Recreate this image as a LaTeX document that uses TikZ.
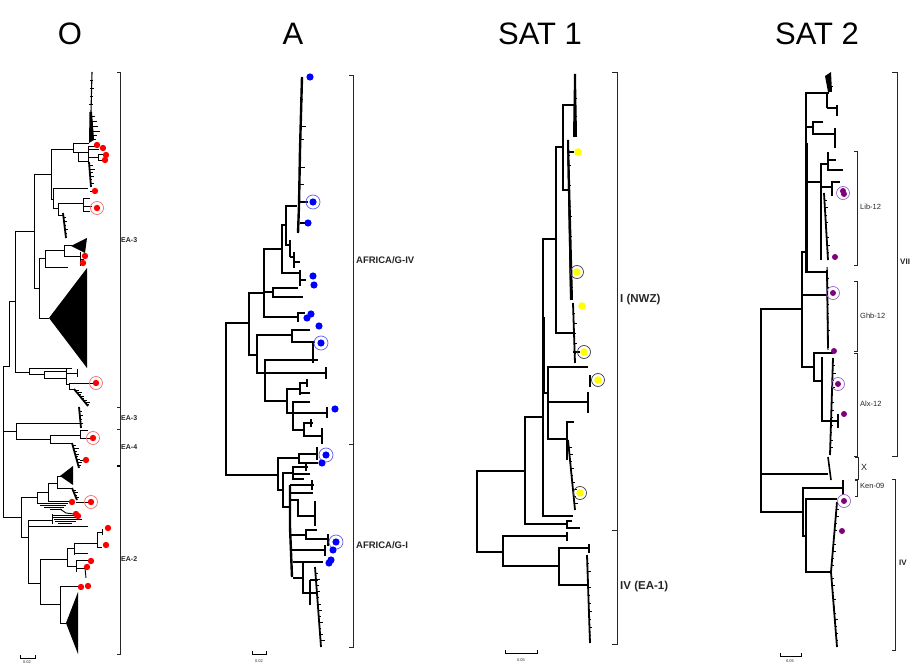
\documentclass[tikz,border=0pt]{standalone}
\usepackage{fontspec}
\setmainfont{Liberation Sans}
\definecolor{lbl}{HTML}{262626}
\definecolor{rdc}{HTML}{FF0000}
\definecolor{rdr}{HTML}{F07070}
\definecolor{bdc}{HTML}{0000FF}
\definecolor{bdr}{HTML}{6060F0}
\definecolor{ydc}{HTML}{FFFF00}
\definecolor{ydr}{HTML}{404040}
\definecolor{pdc}{HTML}{800080}
\definecolor{pdr}{HTML}{9966CC}
\newcommand{\mycomb}[6]{%
  \draw[line width=1.8pt] (#1,#2) -- (#3,#4);
  \foreach \ii in {1,...,#5}{%
    \pgfmathsetmacro{\cft}{\ii/(#5+1)}%
    \pgfmathsetmacro{\cfx}{#1+(#3-#1)*\cft}%
    \pgfmathsetmacro{\cfy}{#2+(#4-#2)*\cft}%
    \pgfmathsetmacro{\cfl}{#6*(0.4+0.6*mod(\ii*7,5)/4)}%
    \draw[line width=0.8pt] (\cfx,\cfy) -- ++(\cfl,0);
  }}
\tikzset{
  ttl/.style={font=\fontsize{31}{31}\selectfont, inner sep=0pt},
  clab/.style={font=\fontsize{7}{7}\selectfont\bfseries, text=lbl, anchor=west, inner sep=0pt},
  blab/.style={font=\fontsize{9.5}{9.5}\selectfont\bfseries, text=lbl, anchor=west, inner sep=0pt},
  slab/.style={font=\fontsize{11.5}{11.5}\selectfont\bfseries, text=lbl, anchor=west, inner sep=0pt},
  plab/.style={font=\fontsize{7.5}{7.5}\selectfont, text=lbl, anchor=west, inner sep=0pt},
  sclab/.style={font=\fontsize{4}{4}\selectfont, text=lbl, inner sep=0pt},
  brk/.style={line width=0.8pt, black!85},
}
\begin{document}
\begin{tikzpicture}[x=1pt,y=-1pt]
\fill[white] (0,0) rectangle (919,668);
\useasboundingbox (0,0) rectangle (919,668);

% ---------------- titles
\node[ttl] (tO) at (70,34) {O};
\node[ttl] (tA) at (293,34) {A};
\node[ttl] (tS1) at (540,34) {SAT 1};
\node[ttl] (tS2) at (817,34) {SAT 2};

% ================= O tree
\begin{scope}[line width=0.9pt]
\draw (3,366)--(3,517);
\draw (3,366)--(9,366)--(9,301)--(15,301);
\draw (15,231)--(15,372);
\draw (3,431)--(16,431);
\draw (3,517)--(21,517);
% upper
\draw (15,231)--(34,231);
\draw (34,174)--(34,288);
\draw (34,174)--(51,174);
\draw (51,149)--(51,199);
\draw (51,149)--(73,149);
\draw (73,143)--(73,152);
\draw (73,143)--(89,143);
\draw (73,152)--(78,152);
\draw (78,152)--(78,161);
\draw (78,152)--(88,152);
\draw (78,161)--(88,161);
\draw (88,146)--(88,163);
\draw (88,146)--(95,146);
\draw (88,149)--(99,149);
\draw (88,157)--(98,157);
\draw (98,154)--(98,160);
\draw (98,154)--(104,154);
\draw (98,160)--(103,160);
\draw[line width=1.1pt] (92,72)--(91,112);
\draw (90,80)--(93,80); \draw (90,88)--(94,88); \draw (90,96)--(93,96); \draw (89,104)--(93,104);
\fill (89.5,112)--(92,112)--(94,140)--(89,143)--cycle;
\draw (91,116)--(95,116); \draw (92,121)--(97,121); \draw (92,126)--(98,126);
\draw (92,131)--(100,131); \draw (92,135)--(97,135); \draw (91,139)--(96,139);
\mycomb{89}{162}{91}{187}{6}{5}
\draw (90,191)--(93,191);
% lower child of 51
\draw (51,199)--(53,199);
\draw (53,188)--(53,208);
\draw (53,188)--(88,188);
\draw (53,208)--(58,208);
\draw (58,203)--(58,215);
\draw (58,203)--(83,203);
\draw (83,198)--(83,211);
\draw (83,198)--(90,198);
\draw (83,206)--(92,206);
\draw (83,211)--(90,211);
\draw (58,215)--(63,215);
\mycomb{63}{213}{66}{238}{5}{3}
% 39 node
\draw (34,288)--(39,288);
\draw (39,258)--(39,318);
\draw (39,258)--(45,258);
\draw (45,250)--(45,267);
\draw (45,250)--(64,250);
\draw (64,245)--(64,256);
\draw (64,245)--(72,245);
\fill (71,246)--(87,238)--(85,253)--cycle;
\draw (64,256)--(80,256);
\draw (80,252)--(80,266);
\draw (80,259)--(84,259);
\draw (45,267)--(68,267);
\draw (39,318)--(49,318);
\fill (49,318)--(87,268)--(87,368)--cycle;
% 29 subtree
\draw (15,372)--(29,372);
\draw (29,368)--(29,374);
\draw (29,368)--(72,368);
\draw (29,374)--(44,374);
\draw (44,371)--(44,378);
\draw (44,371)--(66,371);
\draw (44,378)--(66,378);
\draw (66,368)--(66,384);
\draw (66,373)--(77,373);
\draw (77,369)--(77,377);
\draw (66,384)--(69,384);
\draw (69,383)--(69,389);
\draw (69,383)--(93,383);
\draw (69,389)--(75,389);
\mycomb{74}{389}{88}{406}{8}{5}
\mycomb{79}{407}{81}{428}{4}{3}
% 16 node
\draw (16,423)--(16,439);
\draw (16,423)--(80,423);
\draw (16,439)--(50,439);
\draw (50,435)--(50,443);
\draw (50,435)--(80,435);
\draw (80,430)--(80,438);
\draw (80,430)--(88,430);
\draw (80,438)--(90,438);
\draw (50,443)--(72,443);
\mycomb{72}{443}{79}{468}{8}{5}
\draw (80,460)--(83,460);
% 21 node
\draw (21,497)--(21,537);
\draw (21,497)--(37,497);
\draw (37,492)--(37,503);
\draw (37,492)--(48,492);
\draw (48,483)--(48,501);
\draw (48,483)--(57,483);
\draw (57,476)--(57,488);
\draw (57,476)--(61,476);
\fill (60,476)--(73,466)--(73,485)--cycle;
\draw (57,488)--(72,488);
\mycomb{72}{488}{77}{500}{4}{4}
\draw (76,502)--(88,502);
\draw (48,501)--(70,501);
\draw (37,503)--(68,503);
\draw (40,505)--(66,505);
\draw (44,507)--(64,507);
\draw (50,509)--(62,509);
\draw (60,509)--(66,513)--(74,514);
\draw (21,537)--(28,537);
\draw (28,520)--(28,583);
\draw (28,520)--(52,520);
\draw (52,514)--(52,524);
\draw (52,515)--(75,515);
\draw (52,517)--(80,517);
\draw (54,519)--(82,519);
\draw (55,521)--(76,521);
\draw (58,523)--(72,523);
\draw (28,526)--(88,526);
\draw (28,583)--(40,583);
\draw (40,559)--(40,604);
\draw (40,559)--(67,559);
\draw (67,548)--(67,566);
\draw (67,548)--(74,548);
\draw (74,543)--(74,555);
\draw (74,543)--(97,543);
\draw (97,532)--(97,548);
\draw (97,532)--(102,532);
\draw (102,529)--(102,535);
\draw (97,547)--(102,547);
\draw (74,553)--(88,553);
\draw (67,566)--(76,566);
\draw (76,560)--(76,572);
\draw (76,560)--(88,560);
\draw (76,568)--(85,568);
\draw (85,568)--(86,578);
\draw (40,604)--(60,604);
\draw (60,586)--(60,623);
\draw (60,586)--(80,586);
\draw (60,623)--(66,623);
\fill (66,623)--(78,592)--(78,654)--cycle;
\end{scope}
% O dots
\foreach \p in {(97,208),(96,383),(93,438),(91,502)}{\draw[rdr,line width=0.7pt] \p circle (6.5);}
\foreach \p in {(97,145),(103,148),(106,155),(105,160),(95,191),(97,208),(85,256),(83,263),
  (96,383),(93,438),(86,460),(72,502),(91,502),(76,514),(78,516),(108,528),(106,545),
  (91,561),(87,567),(81,587),(88,586)}{\fill[rdc] \p circle (3.2);}
% O brackets
\draw[brk] (117,72)--(120,72)--(120,654)--(117,654);
\draw[brk] (117,407)--(120,407);
\draw[brk] (117,429)--(120,429);
\draw[line width=1.6pt] (117,466)--(120,466);
\node[clab] (eaA) at (121,240) {EA-3};
\node[clab] (eaB) at (121,418) {EA-3};
\node[clab] (eaC) at (121,447) {EA-4};
\node[clab] (eaD) at (121,559) {EA-2};
\draw[line width=0.6pt] (20,655)--(20,658)--(35,658)--(35,655);
\node[sclab] (scO) at (27,662) {0.02};

% ================= A tree
\begin{scope}[line width=1.8pt]
\draw (226,322)--(226,476);
\draw (226,323)--(249,323);
\draw (226,475)--(278,475);
\draw (249,292)--(249,356);
\draw (249,293)--(264,293);
\draw (264,248)--(264,318);
\draw (264,249)--(282,249);
\draw (264,317)--(298,317);
\draw (298,312)--(298,322);
\draw (298,313)--(305,313);
\draw (264,292)--(273,292);
\draw (273,287)--(273,298);
\draw (273,288)--(298,288);
\draw (273,297)--(303,297);
\draw (282,224)--(282,274);
\draw (282,225)--(286,225);
\draw (286,205)--(286,246);
\draw (286,206)--(297,206);
\draw[line width=2.4pt] (298,233)--(299,206)--(300,150)--(302,77);
\draw[line width=1pt] (300,127)--(306,127);
\draw[line width=1pt] (299,168)--(305,168);
\draw[line width=1pt] (300,100)--(303,100);
\draw[line width=1pt] (299,185)--(304,185);
\draw[line width=1pt] (300,140)--(304,140);
\draw (299,202)--(308,202);
\draw (300,223)--(305,223);
\draw (286,245)--(290,245);
\draw (290,240)--(290,257);
\draw (290,257)--(294,257);
\draw (294,252)--(294,268);
\draw (294,262)--(300,262);
\draw (282,273)--(300,273);
\draw (300,270)--(300,286);
\draw (300,280)--(306,280);
\draw (249,355)--(257,355);
\draw (257,334)--(257,374);
\draw (257,335)--(292,335);
\draw (292,329)--(292,343);
\draw (292,330)--(310,330);
\draw (292,342)--(315,342);
\draw (313,342)--(313,363);
\draw (257,373)--(265,373);
\draw (265,359)--(265,402);
\draw (265,360)--(318,360);
\draw (265,373)--(327,373);
\draw (326,367)--(326,379);
\draw (265,401)--(287,401);
\draw (287,388)--(287,414);
\draw (287,389)--(300,389);
\draw (300,382)--(300,395);
\draw (300,383)--(308,383);
\draw (307,379)--(307,387);
\draw (300,393)--(310,393);
\draw (287,413)--(293,413);
\draw (293,401)--(293,431);
\draw (293,402)--(310,402);
\draw (293,413)--(327,413);
\draw (327,407)--(327,418);
\draw (293,430)--(304,430);
\draw (304,422)--(304,437);
\draw (304,423)--(313,423);
\draw (311,419)--(311,427);
\draw (304,436)--(322,436);
\draw (322,428)--(322,444);
\draw (278,457)--(278,491);
\draw (278,458)--(299,458);
\draw (299,453)--(299,464);
\draw (299,454)--(317,454);
\draw (317,447)--(317,460);
\draw (299,463)--(318,463);
\draw (278,490)--(283,490);
\draw (283,472)--(283,508);
\draw (283,473)--(293,473);
\draw (293,466)--(293,480);
\draw (293,467)--(308,467);
\draw (306,462)--(306,471);
\draw (293,474)--(310,474);
\draw (293,479)--(304,479);
\draw (283,507)--(290,507);
\draw[line width=2.4pt] (290,485)--(290,527)--(292,577);
\draw (290,485)--(314,485);
\draw (312,480)--(312,490);
\draw (290,493)--(313,493);
\draw (290,500)--(298,500);
\draw (298,499)--(298,517);
\draw (298,516)--(315,516);
\draw (315,501)--(315,526);
\draw (291,535)--(306,535);
\draw (306,529)--(306,540);
\draw (306,530)--(317,530);
\draw (306,539)--(328,539);
\draw (328,534)--(328,546);
\draw (292,550)--(325,550);
\draw (325,545)--(325,556);
\draw (293,562)--(323,562);
\draw (303,561)--(303,594);
\draw (293,578)--(303,578);
\draw (303,593)--(316,593);
\draw (310,580)--(318,580);
\draw (310,580)--(310,605);
\end{scope}
\mycomb{315}{567}{321}{647}{12}{4}
\foreach \p in {(313,202),(321,343),(326,455),(336,542)}{\draw[bdr,line width=0.7pt] \p circle (7);}
\foreach \p in {(310,77),(313,202),(308,223),(313,276),(314,285),(311,314),(307,318),(319,326),
  (321,343),(335,409),(326,455),(322,463),(336,542),(333,550),(331,560),(329,563)}{\fill[bdc] \p circle (3.6);}
\draw[brk] (349,75)--(353,75)--(353,647)--(349,647);
\draw[brk] (349,444)--(353,444);
\node[blab] (afIV) at (356,260) {AFRICA/G-IV};
\node[blab] (afI) at (356,545) {AFRICA/G-I};
\draw[line width=0.6pt] (252,651)--(252,654)--(266,654)--(266,651);
\node[sclab] (scA) at (259,661) {0.02};

% ================= SAT 1
\begin{scope}[line width=1.6pt]
\draw (477,470)--(477,553);
\draw (477,471)--(525,471);
\draw (477,552)--(503,552);
\draw (525,416)--(525,525);
\draw (525,417)--(543,417);
\draw (525,524)--(567,524);
\draw (567,520)--(567,529);
\draw (567,521)--(572,521);
\draw (567,528)--(580,528);
\draw (543,238)--(543,517);
\draw[line width=3pt] (543,317)--(543,393);
\draw (543,239)--(556,239);
\draw (556,146)--(556,334);
\draw (556,147)--(563,147);
\draw (563,104)--(563,191);
\draw (563,105)--(575,105);
\draw (563,190)--(568,190);
\draw (556,333)--(573,333);
\draw (543,393)--(548,393);
\draw (548,366)--(548,440);
\draw (548,367)--(588,367);
\draw (548,402)--(588,402);
\draw (588,392)--(588,413);
\draw (590,375)--(590,387);
\draw (548,439)--(567,439);
\draw (567,421)--(567,460);
\draw (567,422)--(574,422);
\draw (543,516)--(573,516);
\draw (503,535)--(503,567);
\draw (503,536)--(567,536);
\draw (567,532)--(567,541);
\draw (503,566)--(559,566);
\draw (559,547)--(559,586);
\draw (559,548)--(589,548);
\draw (589,544)--(589,553);
\draw (559,585)--(587,585);
\draw (569,152)--(574,152);
\draw (573,352)--(580,352);
\end{scope}
\fill (574,74)--(576,74)--(577,137)--(573,137)--cycle;
\mycomb{575}{80}{575}{135}{5}{2}
\fill (567,140)--(569,140)--(573,300)--(570,300)--cycle;
\mycomb{568}{145}{571}{298}{14}{3}
\mycomb{573}{303}{575}{363}{5}{3}
\mycomb{568}{440}{575}{510}{9}{4}
\mycomb{587}{555}{590}{643}{10}{3}
\foreach \p in {(577,272),(584,352),(598,380),(580,493)}{\draw[ydr,line width=0.7pt] \p circle (6.5);}
\foreach \p in {(578,152),(577,272),(582,306),(584,352),(598,380),(580,493)}{\fill[ydc] \p circle (3.8);}
\draw[brk] (612,72)--(617,72)--(617,644)--(612,644);
\draw[brk] (612,530)--(617,530);
\node[slab] (nwz) at (620,300) {I (NWZ)};
\node[slab] (ea1) at (620,587) {IV (EA-1)};
\draw[line width=0.6pt] (505,650)--(505,653)--(537,653)--(537,650);
\node[sclab] (sc1) at (521,660) {0.05};

% ================= SAT 2
\begin{scope}[line width=1.6pt]
\draw (761,308)--(761,513);
\draw (761,309)--(802,309);
\draw (761,474)--(828,474);
\draw (761,512)--(803,512);
\draw (803,487)--(803,537);
\draw (803,488)--(843,488);
\draw (843,480)--(843,495);
\draw (803,536)--(806,536);
\draw (806,498)--(806,573);
\draw (806,499)--(837,499);
\draw (806,572)--(831,572);
\draw (802,251)--(802,368);
\draw (802,252)--(806,252);
\draw (806,92)--(806,273);
\draw[line width=3pt] (806,143)--(806,273);
\draw (806,93)--(829,93);
\draw (827,93)--(827,108);
\draw (827,108)--(837,108);
\draw (837,105)--(837,116);
\draw (806,127)--(813,127);
\draw (813,121)--(813,135);
\draw (813,122)--(823,122);
\draw (813,134)--(835,134);
\draw (835,128)--(835,148);
\draw (806,182)--(821,182);
\draw (821,163)--(821,260);
\draw (821,164)--(828,164);
\draw (828,152)--(828,171);
\draw (828,170)--(843,170);
\draw (828,160)--(836,160);
\draw (821,187)--(832,187);
\draw (832,181)--(832,196);
\draw (832,182)--(840,182);
\draw (806,272)--(827,272);
\draw (802,295)--(827,295);
\draw (802,367)--(814,367);
\draw (814,352)--(814,382);
\draw (814,353)--(833,353);
\draw (814,381)--(822,381);
\draw[line width=2.6pt] (822,357)--(822,422);
\draw (822,421)--(838,421);
\draw (838,414)--(838,428);
\end{scope}
\fill (825,76)--(831,72)--(832,92)--(828,92)--cycle;
\mycomb{829}{80}{830}{92}{3}{3}
\mycomb{824}{193}{828}{260}{8}{3}
\draw[line width=1pt] (827,267)--(828,350);
\mycomb{827}{270}{828}{348}{8}{2}
\mycomb{833}{358}{830}{455}{12}{3}
\draw[line width=1.6pt] (828,457)--(831,480);
\mycomb{837}{502}{831}{572}{9}{3}
\mycomb{831}{572}{837}{647}{10}{3}
\foreach \p in {(843,193),(833,293),(838,384),(844,501)}{\draw[pdr,line width=0.7pt] \p circle (6.5);}
\foreach \p in {(843,191),(844,194),(835,257),(833,293),(834,351),(838,384),(844,414),(844,501),(842,531)}{\fill[pdc] \p circle (3);}
\draw[brk] (892,72)--(897,72)--(897,456)--(892,456);
\draw[brk] (892,479)--(895,479)--(895,650)--(892,650);
\draw[brk] (854,151)--(857,151)--(857,265)--(854,265);
\draw[brk] (854,281)--(857,281)--(857,351)--(854,351);
\draw[brk] (854,353)--(857,353)--(857,456)--(854,456);
\draw[brk] (855,457)--(858,457)--(858,479)--(855,479);
\draw[brk] (855,480)--(857,480)--(857,496)--(855,496);
\node[plab] (lib) at (860,207) {Lib-12};
\node[plab] (ghb) at (860,316) {Ghb-12};
\node[plab] (alx) at (860,404) {Alx-12};
\node[plab, font=\fontsize{9}{9}\selectfont] (xx) at (861,467) {X};
\node[plab] (ken) at (860,486) {Ken-09};
\node[plab, font=\fontsize{8}{8}\selectfont\bfseries] (vii) at (900,262) {VII};
\node[plab, font=\fontsize{8}{8}\selectfont\bfseries] (ivv) at (899,563) {IV};
\draw[line width=0.6pt] (780,653)--(780,656)--(801,656)--(801,653);
\node[sclab] (sc2) at (790,661) {0.05};
\end{tikzpicture}
\end{document}
